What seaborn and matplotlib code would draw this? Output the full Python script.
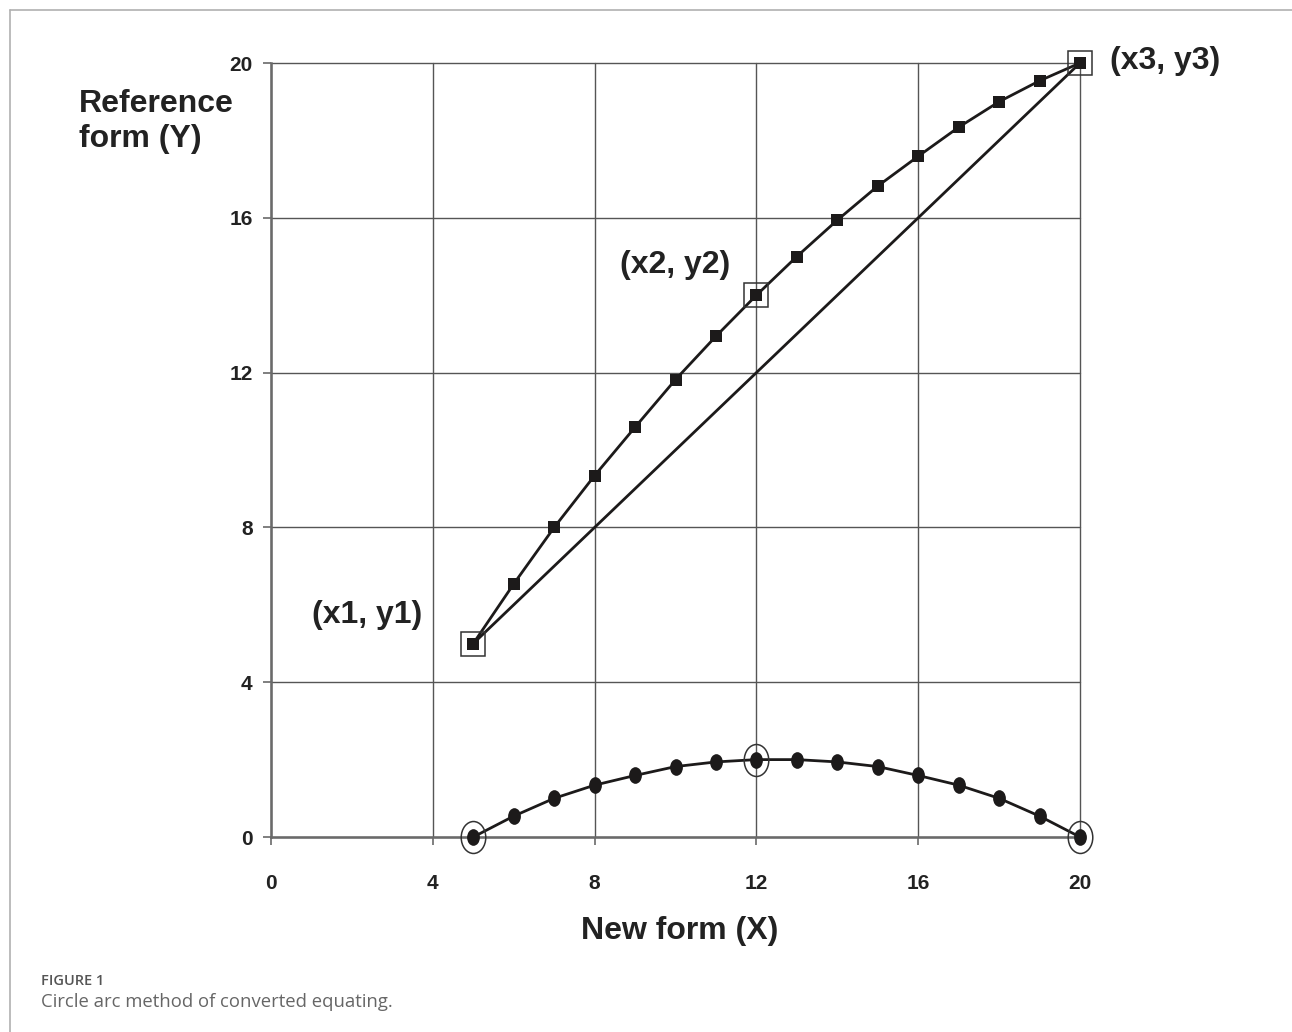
import numpy as np
import pandas as pd
import matplotlib
matplotlib.use("Agg")
import matplotlib.pyplot as plt
from matplotlib.path import Path
from matplotlib.lines import Line2D
import seaborn as sns

# ---- data ----
x_scores = [5, 6, 7, 8, 9, 10, 11, 12, 13, 14, 15, 16, 17, 18, 19, 20]
arc_y = [5, 6.54, 8.0, 9.34, 10.59, 11.82, 12.94, 14.0, 15.0, 15.94, 16.82, 17.59, 18.34, 19.0, 19.54, 20.0]
linear_y = [5, 6, 7, 8, 9, 10, 11, 12, 13, 14, 15, 16, 17, 18, 19, 20]
diff_y = [0, 0.54, 1.0, 1.34, 1.59, 1.82, 1.94, 2.0, 2.0, 1.94, 1.82, 1.59, 1.34, 1.0, 0.54, 0]
anchor_x = [5, 12, 20]
anchor_y = [5, 14, 20]
anchor_diff = [0, 2.0, 0]
ticks = [0, 4, 8, 12, 16, 20]
point_labels = ["(x1, y1)", "(x2, y2)", "(x3, y3)"]

sns.set_theme(style="white")
plt.rcParams['font.family'] = ['Liberation Sans', 'DejaVu Sans']

fig = plt.figure(figsize=(12.92, 10.32), dpi=100)
ax = fig.add_axes([0.2098, 0.18895, 0.6261, 0.75])

# elliptical marker
circ = Path.unit_circle()
ell = Path(circ.vertices * np.array([1.0, 1.3]), circ.codes)

ink = "#1c1a1a"
sns.lineplot(x=x_scores, y=linear_y, ax=ax, color=ink, lw=2.0, clip_on=False, zorder=3)
sns.lineplot(x=x_scores, y=arc_y, ax=ax, color=ink, lw=2.0, marker="s", markersize=9,
             markeredgewidth=0, clip_on=False, zorder=4)
sns.lineplot(x=x_scores, y=diff_y, ax=ax, color=ink, lw=2.0, marker=ell, markersize=12,
             markeredgewidth=0, clip_on=False, zorder=4)

ax.plot(anchor_x, anchor_y, ls="none", marker="s", markersize=17.5, markerfacecolor="none",
        markeredgecolor="#333333", markeredgewidth=1.1, clip_on=False, zorder=5)
ax.plot(anchor_x, anchor_diff, ls="none", marker=ell, markersize=23, markerfacecolor="none",
        markeredgecolor="#333333", markeredgewidth=1.1, clip_on=False, zorder=5)

ax.set_xlim(0, 20)
ax.set_ylim(0, 20)
ax.set_xticks(ticks)
ax.set_yticks(ticks)
ax.grid(True, color="#555555", lw=1.0)
for gl in ax.get_xgridlines() + ax.get_ygridlines():
    gl.set_clip_on(False)
ax.set_axisbelow(True)
for s in ["top", "right"]:
    ax.spines[s].set_visible(False)
for s in ["left", "bottom"]:
    ax.spines[s].set_color("#6a6a6a")
    ax.spines[s].set_linewidth(1.8)
ax.tick_params(axis="both", which="major", length=5.8, width=1.2, color="#6a6a6a",
               labelsize=15, labelcolor="#222222")
ax.tick_params(axis="y", pad=7.5, left=True)
ax.tick_params(axis="x", pad=20.5, bottom=True)
for lab in ax.get_xticklabels() + ax.get_yticklabels():
    lab.set_fontweight("bold")

ax.set_xlabel("New form (X)", fontsize=23, fontweight="bold", color="#222222")
ax.xaxis.set_label_coords(0.5056, -0.1215)
ax.xaxis.label.set_va("center")
ax.set_ylabel("Reference\nform (Y)", fontsize=23, fontweight="bold", color="#222222",
              rotation=0, ha="left", va="top", linespacing=1.2)
ax.yaxis.set_label_coords(-0.238, 0.966)

label_pos = [(1.01, 5.73), (8.63, 14.78), (20.74, 20.05)]
for t, (px, py) in zip(point_labels, label_pos):
    ax.text(px, py, t, fontsize=23, fontweight="bold", color="#222222",
            ha="left", va="center", clip_on=False)

# figure frame and caption
fig.add_artist(Line2D([10/1292, 1.0], [1 - 10/1032, 1 - 10/1032], transform=fig.transFigure,
                      color="#b0b0b0", lw=1.2))
fig.add_artist(Line2D([10/1292, 10/1292], [0, 1 - 10/1032], transform=fig.transFigure,
                      color="#b0b0b0", lw=1.2))
fig.text(41/1292, 1 - 981/1032, "FIGURE 1", fontsize=10.5, fontweight="semibold",
         color="#555555", family=["Open Sans", "DejaVu Sans"], va="center", ha="left")
fig.text(41/1292, 1 - 1002/1032, "Circle arc method of converted equating.", fontsize=13.3,
         color="#666666", family=["Open Sans", "DejaVu Sans"], va="center", ha="left")

fig.savefig("out.png", dpi=100)
